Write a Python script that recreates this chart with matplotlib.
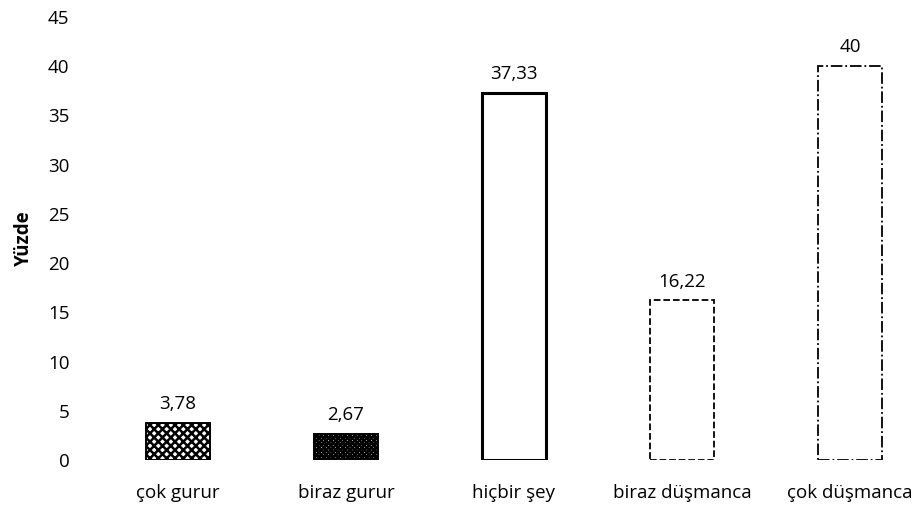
import matplotlib.pyplot as plt
import numpy as np

plt.rcParams['font.family'] = ['Open Sans', 'DejaVu Sans']

categories = ['çok gurur', 'biraz gurur', 'hiçbir şey', 'biraz düşmanca', 'çok düşmanca']
values = [3.78, 2.67, 37.33, 16.22, 40]
labels = ['3,78', '2,67', '37,33', '16,22', '40']
yticks = [0, 5, 10, 15, 20, 25, 30, 35, 40, 45]

hatches = ['xxxx', 'XXXXXXX', '', '', '']
styles = ['-', '-', '-', '--', '-.']
widths = [1.4, 1.4, 2.2, 1.3, 1.3]

fs = 13.5
fig = plt.figure(figsize=(9.2, 5.13), dpi=100)
ax = fig.add_axes([100 / 920, 1 - 460 / 513, 820 / 920, 443 / 513])

x = np.arange(len(categories))
plt.rcParams['hatch.linewidth'] = 1.8
for i in range(len(values)):
    ax.bar(x[i], values[i], width=0.38, facecolor='white', edgecolor='black',
           hatch=hatches[i], linestyle=styles[i], linewidth=widths[i])
    ax.annotate(labels[i], (x[i], values[i]), xytext=(0, 7), textcoords='offset points',
                ha='center', va='bottom', fontsize=fs, fontweight='medium')

ax.set_xlim((100 - 178) / 168, (920 - 178) / 168)
ax.set_ylim(0, 45)
ax.set_yticks(yticks)
ax.set_xticks(x)
ax.set_xticklabels(categories, fontsize=fs, fontweight='medium')
ax.tick_params(axis='y', labelsize=fs, length=0, pad=22)
for t in ax.get_yticklabels():
    t.set_fontweight('medium')
ax.tick_params(axis='x', length=0, pad=17)
for s in ax.spines.values():
    s.set_visible(False)
ax.set_ylabel('Yüzde', fontsize=fs, fontweight='bold', labelpad=10)

fig.savefig('out.png', dpi=100)
